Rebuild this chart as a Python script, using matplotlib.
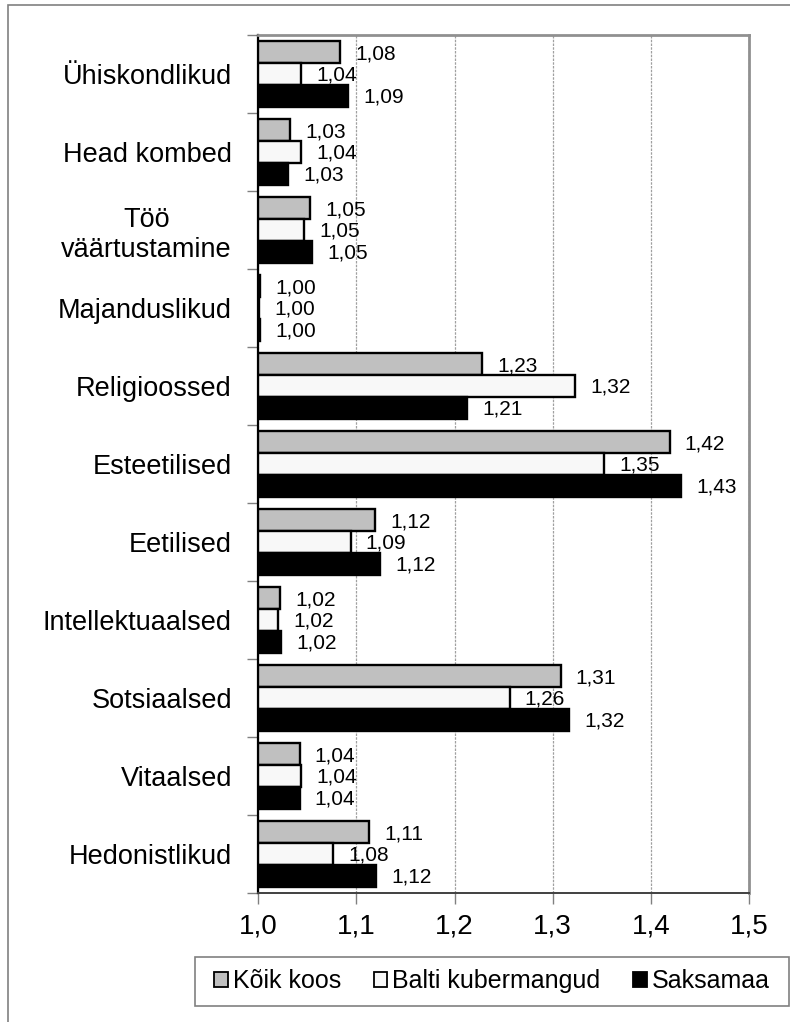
import numpy as np
import matplotlib
matplotlib.use('Agg')
import matplotlib.pyplot as plt
from matplotlib.patches import Patch, Rectangle

plt.rcParams['font.family'] = ['Liberation Sans', 'DejaVu Sans']

#~~~~~~~~~~~~~~~~~~~~~~~~~~~~~~~~~data~~~~~~~~~~~~~~~~~~~~~~~~~~~~~~~
categories = ['Ühiskondlikud', 'Head kombed', 'Töö\nväärtustamine', 'Majanduslikud',
              'Religioossed', 'Esteetilised', 'Eetilised', 'Intellektuaalsed',
              'Sotsiaalsed', 'Vitaalsed', 'Hedonistlikud']
koik_koos = [1.083, 1.032, 1.053, 1.002, 1.228, 1.419, 1.119, 1.022, 1.308, 1.042, 1.113]
balti_kubermangud = [1.044, 1.044, 1.047, 1.001, 1.323, 1.352, 1.094, 1.020, 1.256, 1.044, 1.076]
saksamaa = [1.091, 1.030, 1.055, 1.002, 1.213, 1.431, 1.124, 1.023, 1.317, 1.042, 1.120]
series_names = ['Kõik koos', 'Balti kubermangud', 'Saksamaa']
x_ticks = [1.0, 1.1, 1.2, 1.3, 1.4, 1.5]
x_tick_labels = ['1,0', '1,1', '1,2', '1,3', '1,4', '1,5']

colors = ['#c0c0c0', '#f8f8f8', '#000000']
W, H = 790, 1022


def fx(px):
    # pixel x -> figure fraction
    return px / W


def fy(py):
    # pixel y (from top) -> figure fraction
    return 1 - py / H


fig = plt.figure(figsize=(W / 100, H / 100), dpi=100)
ax = fig.add_axes([fx(258.3), fy(893), fx(749) - fx(258.3), fy(35) - fy(893)])

n = len(categories)
bar_h = 0.278
for k, (vals, color) in enumerate(zip([koik_koos, balti_kubermangud, saksamaa], colors)):
    vals = np.array(vals)
    y = np.arange(n) + (k - 1) * bar_h
    ax.barh(y, vals - 1.0, left=1.0, height=bar_h, color=color,
            edgecolor='black', linewidth=1.7, zorder=3)
    for yi, v in zip(y, vals):
        ax.annotate(f'{v:.2f}'.replace('.', ','), (v, yi), xytext=(11, -1),
                    textcoords='offset points', va='center', ha='left',
                    fontsize=15, zorder=4)

ax.set_xlim(1.0, 1.5)
ax.set_ylim(n - 0.5, -0.5)

# category labels in the middle, tick marks on the borders
ax.set_yticks(np.arange(n))
ax.set_yticklabels(categories, fontsize=19.5, multialignment='center')
ax.tick_params(axis='y', which='major', length=0, pad=19)
ax.set_yticks(np.arange(n + 1) - 0.5, minor=True)
ax.tick_params(axis='y', which='minor', length=8, width=1, color='#808080')

ax.set_xticks(x_ticks)
ax.set_xticklabels(x_tick_labels)
ax.tick_params(axis='x', length=8, width=1, color='#808080', labelsize=20, pad=7)

ax.grid(axis='x', linestyle=(0, (2, 1)), color='#a0a0a0', linewidth=0.9, zorder=0)
ax.set_axisbelow(True)

ax.spines['left'].set_color('black')
ax.spines['left'].set_linewidth(1.6)
ax.spines['bottom'].set_color('#404040')
ax.spines['bottom'].set_linewidth(1.4)
ax.spines['top'].set_color('#909090')
ax.spines['top'].set_linewidth(2)
ax.spines['right'].set_color('#909090')
ax.spines['right'].set_linewidth(2)

# outer frame of the chart
fig.patches.append(Rectangle((fx(8), -0.01), 1.0, fy(5) + 0.01, transform=fig.transFigure,
                             fill=False, edgecolor='#808080', linewidth=1.2))

# legend with its own box
fig.patches.append(Rectangle((fx(195), fy(1006)), fx(789) - fx(195), fy(957) - fy(1006),
                             transform=fig.transFigure, fill=False,
                             edgecolor='#808080', linewidth=1.2))
handles = [Patch(facecolor=c, edgecolor='black', linewidth=1.3) for c in colors]
fig.legend(handles, series_names, loc='center',
           bbox_to_anchor=(fx((195 + 789) / 2), fy(981)), ncol=3, frameon=False,
           fontsize=18, handlelength=0.55, handleheight=0.55, handletextpad=0.2,
           columnspacing=1.3)

fig.savefig('out.png', dpi=100)
